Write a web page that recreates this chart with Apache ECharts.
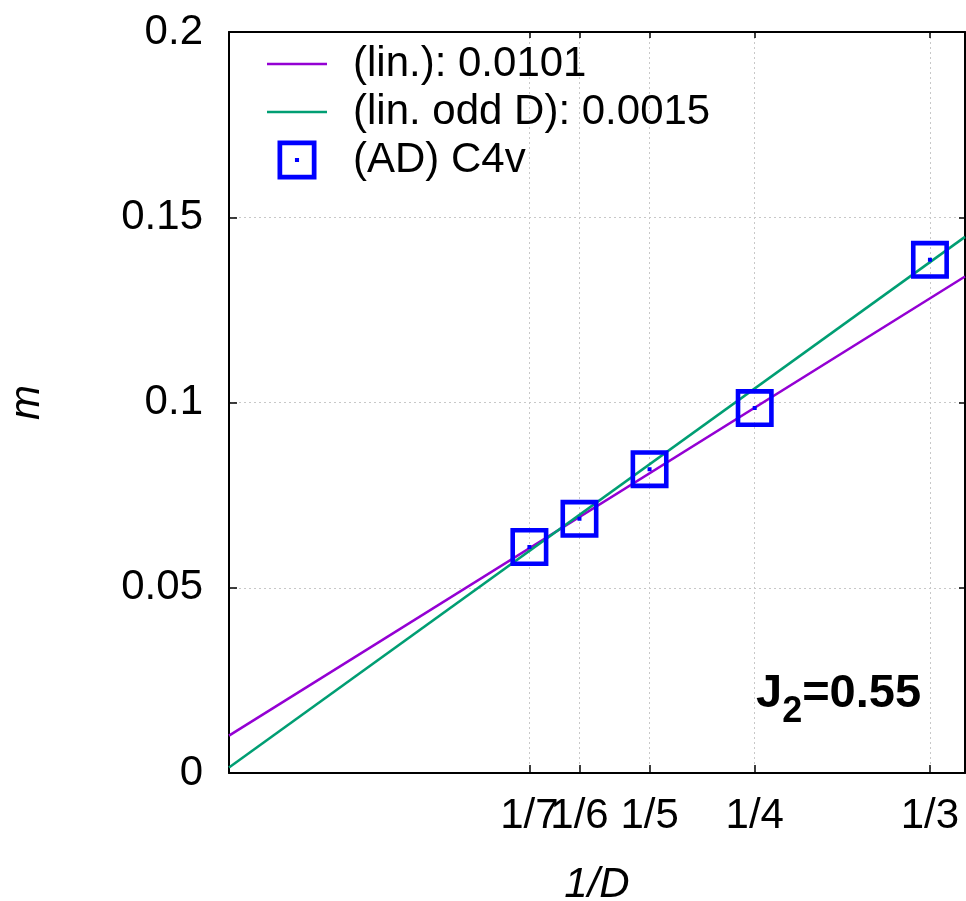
<!DOCTYPE html>
<html>
<head>
<meta charset="utf-8">
<script src="https://cdn.jsdelivr.net/npm/echarts@6/dist/echarts.min.js"></script>
<style>
html,body{margin:0;padding:0;background:#fff;}
#chart{width:966px;height:901px;}
</style>
</head>
<body>
<div id="chart"></div>
<script>
// ---- data ----
var xTicks = [1/7, 1/6, 1/5, 1/4, 1/3];
var xTickLabels = ['1/7', '1/6', '1/5', '1/4', '1/3'];
var yTicks = [0, 0.05, 0.1, 0.15, 0.2];

var pointX = [1/7, 1/6, 1/5, 1/4, 1/3];
var pointM = [0.0610, 0.0686, 0.0820, 0.0985, 0.1385];

var fitX = [0, 0.35];
var linY = [0.0101, 0.1340];
var linOddY = [0.0015, 0.1447];

var seriesNames = ['(lin.): 0.0101', '(lin. odd D): 0.0015', '(AD) C4v'];

// ---- build chart ----
var FONT = 'Liberation Sans, Arial, Helvetica, sans-serif';
function pairs(xs, ys) { return xs.map(function (x, i) { return [x, ys[i]]; }); }
function tickLabel(v) {
  var best = 0, bd = Infinity;
  for (var i = 0; i < xTicks.length; i++) {
    var d = Math.abs(xTicks[i] - v);
    if (d < bd) { bd = d; best = i; }
  }
  return xTickLabels[best];
}
// labels 1/7 and 1/6 touch each other: split them over two label layers so neither is hidden
var labelsMain = xTicks.filter(function (v, i) { return i !== 1; });
var labelsExtra = xTicks.filter(function (v, i) { return i === 1; });

var squarePath = 'path://M0 0H38V38H0Z M4.6 4.6V33.4H33.4V4.6Z M17 17H21V21H17Z';
var lineIcon = 'path://M0 0H60V2.5H0Z';

var chart = echarts.init(document.getElementById('chart'), null, {renderer: 'canvas'});
var axisLineStyle = {color: '#000', width: 2};
var gridLine = {show: true, lineStyle: {color: '#c8c8c8', width: 1, type: [2, 3]}};
var labelStyle = {fontFamily: FONT, fontSize: 42, color: '#000'};

var option = {
  backgroundColor: '#fff',
  animation: false,
  grid: {left: 229, right: 1, top: 32, bottom: 128, containLabel: false, outerBoundsMode: 'none'},
  legend: {
    orient: 'vertical',
    left: 267, top: 43,
    padding: 0,
    itemWidth: 60, itemHeight: 39, itemGap: 6,
    selectedMode: false,
    data: [
      {name: seriesNames[0], icon: lineIcon},
      {name: seriesNames[1], icon: lineIcon},
      {name: seriesNames[2]}
    ],
    textStyle: {fontFamily: FONT, fontSize: 42, color: '#000', lineHeight: 39, padding: [0, 0, 0, 21]}
  },
  xAxis: [{
    type: 'value', min: 0, max: 0.35, position: 'bottom',
    name: '1/D', nameLocation: 'middle', nameGap: 91,
    nameTextStyle: {fontFamily: FONT, fontSize: 42, fontStyle: 'italic', color: '#000'},
    axisLine: {show: true, onZero: false, lineStyle: axisLineStyle},
    axisTick: {show: true, inside: true, length: 8, lineStyle: {color: '#000', width: 1.5}, customValues: xTicks},
    axisLabel: Object.assign({show: true, customValues: labelsMain, formatter: tickLabel, margin: 22,
      hideOverlap: false, interval: 0, showMinLabel: true, showMaxLabel: true}, labelStyle),
    splitLine: gridLine
  }, {
    type: 'value', min: 0, max: 0.35, position: 'top',
    axisLine: {show: true, onZero: false, lineStyle: axisLineStyle},
    axisTick: {show: true, inside: true, length: 6, lineStyle: {color: '#000', width: 1.5}, customValues: xTicks},
    axisLabel: {show: false},
    splitLine: {show: false}
  }, {
    type: 'value', min: 0, max: 0.35, position: 'bottom', offset: 0,
    axisLine: {show: false, onZero: false},
    axisTick: {show: false, customValues: labelsExtra},
    axisLabel: Object.assign({show: true, customValues: labelsExtra, formatter: tickLabel, margin: 22,
      hideOverlap: false, showMinLabel: true, showMaxLabel: true}, labelStyle),
    splitLine: {show: false}
  }],
  yAxis: [{
    type: 'value', min: 0, max: 0.2, interval: 0.05, position: 'left',
    name: 'm', nameLocation: 'middle', nameGap: 181, nameRotate: 90,
    nameTextStyle: {fontFamily: FONT, fontSize: 42, fontStyle: 'italic', color: '#000'},
    axisLine: {show: true, onZero: false, lineStyle: axisLineStyle},
    axisTick: {show: true, inside: true, length: 8, lineStyle: {color: '#000', width: 1.5}},
    axisLabel: Object.assign({show: true, margin: 26, customValues: yTicks}, labelStyle),
    splitLine: gridLine
  }, {
    type: 'value', min: 0, max: 0.2, interval: 0.05, position: 'right',
    axisLine: {show: true, onZero: false, lineStyle: axisLineStyle},
    axisTick: {show: true, inside: true, length: 6, lineStyle: {color: '#000', width: 1.5}},
    axisLabel: {show: false},
    splitLine: {show: false}
  }],
  series: [{
    name: seriesNames[0], type: 'line', xAxisIndex: 0, yAxisIndex: 0,
    data: pairs(fitX, linY), symbol: 'none', showSymbol: false,
    lineStyle: {color: '#9400D3', width: 2.5}, itemStyle: {color: '#9400D3'}, z: 2
  }, {
    name: seriesNames[1], type: 'line', xAxisIndex: 0, yAxisIndex: 0,
    data: pairs(fitX, linOddY), symbol: 'none', showSymbol: false,
    lineStyle: {color: '#009E73', width: 2.5}, itemStyle: {color: '#009E73'}, z: 2
  }, {
    name: seriesNames[2], type: 'scatter', xAxisIndex: 0, yAxisIndex: 0,
    data: pairs(pointX, pointM), symbol: squarePath, symbolSize: 38,
    itemStyle: {color: '#0000FF', opacity: 1}, z: 3
  }],
  graphic: [{
    type: 'text', left: 756, top: 671, z: 10,
    style: {
      text: '{a|J}{s|2}{a|=0.55}',
      rich: {
        a: {fontFamily: FONT, fontSize: 47, fontWeight: 'bold', fill: '#000'},
        s: {fontFamily: FONT, fontSize: 36, fontWeight: 'bold', fill: '#000', padding: [36, 0, 0, 0]}
      }
    }
  }]
};
chart.setOption(option);
</script>
</body>
</html>
